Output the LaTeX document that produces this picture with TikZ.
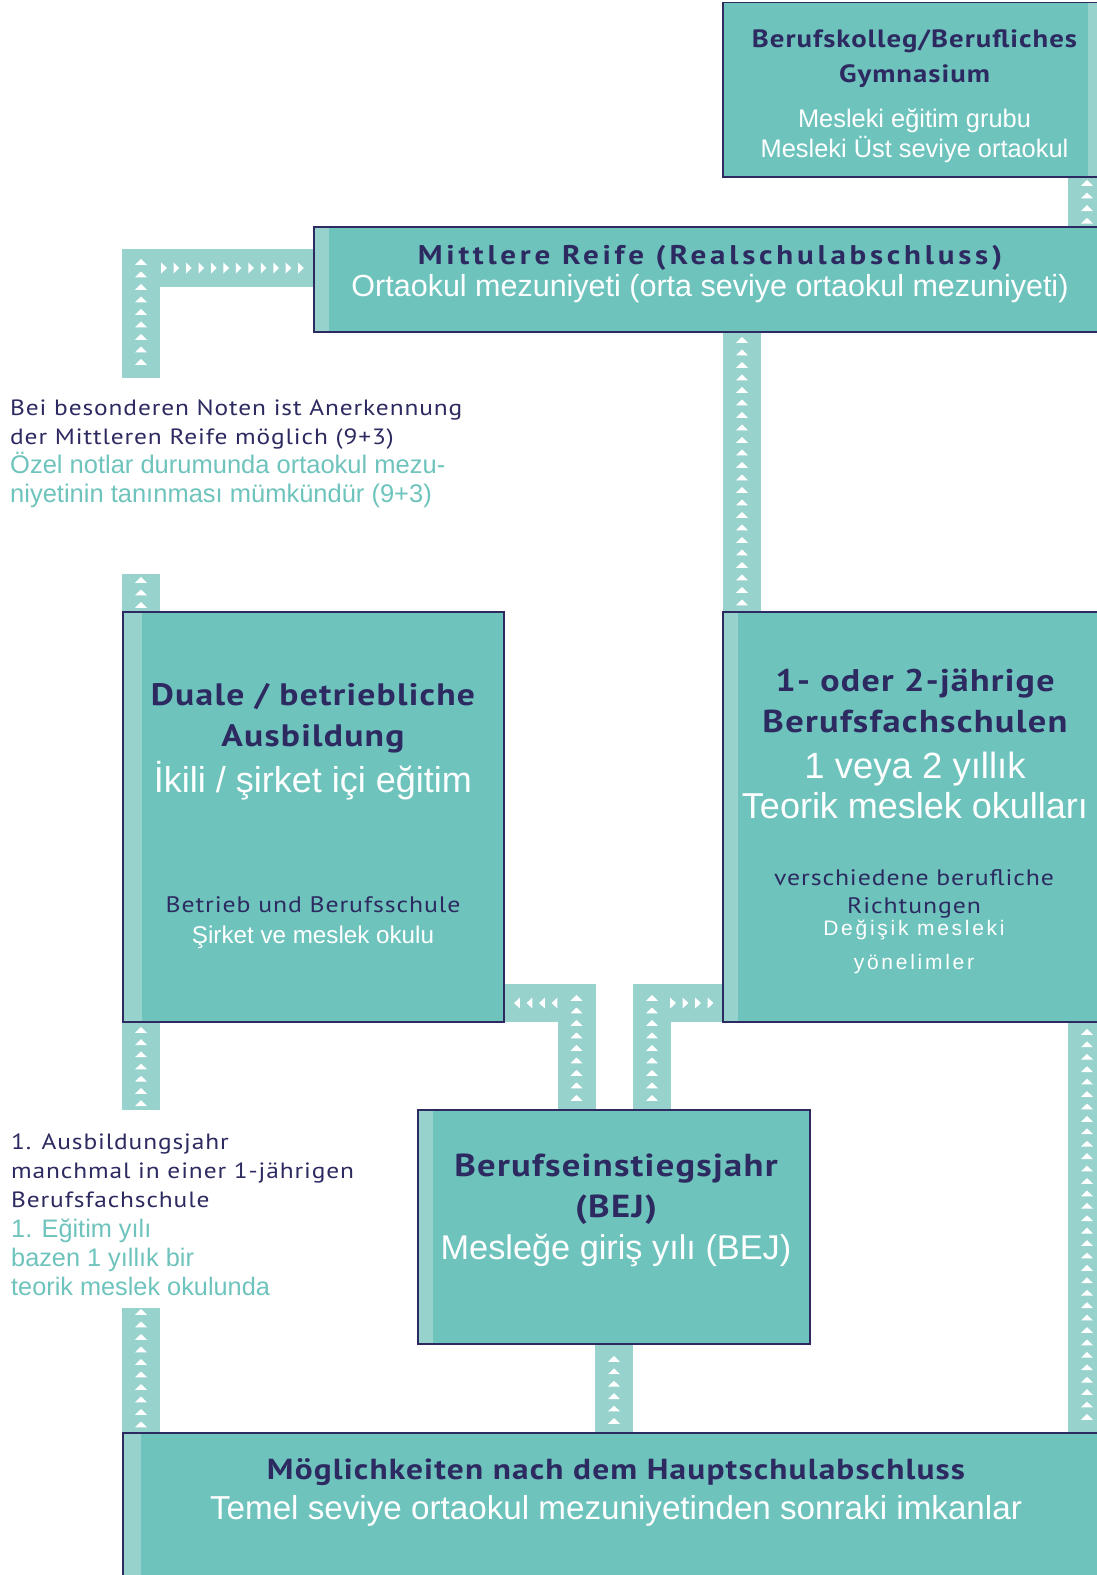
\documentclass[tikz,border=0pt]{standalone}
\usepackage{fontspec}
\setmainfont{Liberation Sans}
\newfontfamily\dinfont[FakeStretch=1.15, LetterSpace=4]{PT Sans}
\newfontfamily\dinwide[FakeStretch=1.15, LetterSpace=14]{PT Sans}
\newfontfamily\trfont{Liberation Sans}
\newfontfamily\trspaced[LetterSpace=13]{Liberation Sans}
\usetikzlibrary{calc}
\definecolor{boxfill}{RGB}{110,196,189}
\definecolor{stripc}{RGB}{152,210,205}
\definecolor{navy}{RGB}{44,42,96}
\definecolor{tealtxt}{RGB}{110,196,189}
\newcommand\fs[1]{\fontsize{#1}{#1}\selectfont}
\begin{document}
\begin{tikzpicture}[x=1pt,y=-1pt,
  boxn/.style={rectangle, fill=boxfill, draw=none, inner sep=0pt, outer sep=0pt, anchor=north west},
  frame/.style={draw=navy, line width=1.6pt},
  conn/.style={draw=stripc, line width=38pt, line join=miter, line cap=butt},
  deB/.style={anchor=base, inner sep=0pt, text=navy, font=\dinfont\bfseries\fs{#1}},
  deW/.style={anchor=base, inner sep=0pt, text=navy, font=\dinwide\bfseries\fs{#1}},
  deR/.style={anchor=base, inner sep=0pt, text=navy, font=\dinfont\fs{#1}},
  trW/.style={anchor=base, inner sep=0pt, text=white, font=\trfont\fs{#1}},
  trS/.style={anchor=base, inner sep=0pt, text=white, font=\trspaced\fs{#1}},
  trT/.style={anchor=base west, inner sep=0pt, text=tealtxt, font=\trfont\fs{#1}},
  deL/.style={anchor=base west, inner sep=0pt, text=navy, font=\dinfont\fs{#1}},
  uptri/.pic={\fill[white] (-6,2.8) -- (6,2.8) -- (0,-3) -- cycle;},
  rtri/.pic={\fill[white] (-2.8,-5.5) -- (-2.8,5.5) -- (2.8,0) -- cycle;},
  ltri/.pic={\fill[white] (2.8,-5.5) -- (2.8,5.5) -- (-2.8,0) -- cycle;}
]
\useasboundingbox (0,0) rectangle (1097,1575);
\clip (0,0) rectangle (1097,1575);
\fill[white] (0,0) rectangle (1097,1575);

% ---------- boxes ----------
\node[boxn, minimum width=400, minimum height=174.5] (bk) at (723,2.5) {};
\node[boxn, minimum width=810, minimum height=105] (mr) at (314,227) {};
\node[boxn, minimum width=381, minimum height=410] (du) at (123,612) {};
\node[boxn, minimum width=400, minimum height=410] (bf) at (723,612) {};
\node[boxn, minimum width=392, minimum height=234] (bej) at (418,1110) {};
\node[boxn, minimum width=1000, minimum height=200] (hs) at (123,1433) {};

% light strips inside boxes
\fill[stripc] ($(bk.north west)+(365,0)$) rectangle (bk.south east);
\fill[stripc] (mr.north west) rectangle ($(mr.south west)+(15,0)$);
\fill[stripc] (du.north west) rectangle ($(du.south west)+(19,0)$);
\fill[stripc] (bf.north west) rectangle ($(bf.south west)+(15,0)$);
\fill[stripc] (bej.north west) rectangle ($(bej.south west)+(15,0)$);
\fill[stripc] (hs.north west) rectangle ($(hs.south west)+(18,0)$);

% ---------- connectors ----------
\coordinate (xL) at (141,0);
\coordinate (xR) at (1087,0);
\coordinate (xD) at (742,0);
\coordinate (xG) at (576.5,0);
\coordinate (xH) at (652,0);
\coordinate (xI) at (614,0);
\coordinate (yGH) at (0,1003);
\coordinate (yB) at (0,268);
\coordinate (fb) at (141,378);
\coordinate (fc) at (141,574);
\coordinate (fe) at (141,1110);
\coordinate (ff) at (141,1308);

\draw[conn] (xR |- bk.south) -- (xR |- mr.north);
\draw[conn] (fb) -- (fb |- yB) -- (mr.west |- yB);
\draw[conn] (fc) -- (xL |- du.north);
\draw[conn] (xD |- bf.north) -- (xD |- mr.south);
\draw[conn] (xL |- du.south) -- (fe);
\draw[conn] (ff) -- (xL |- hs.north);
\draw[conn] (xG |- bej.north) -- (xG |- yGH) -- (du.east |- yGH);
\draw[conn] (xH |- bej.north) -- (xH |- yGH) -- (bf.west |- yGH);
\draw[conn] (xI |- bej.south) -- (xI |- hs.north);
\draw[conn] (xR |- bf.south) -- (xR |- hs.north);

% frames
\foreach \b in {bk,mr,du,bf,bej,hs}
  \draw[frame] (\b.north west) rectangle (\b.south east);

% ---------- arrow marks ----------
\foreach \i in {0,...,3} \pic at (1087,{183+\i*12.6}) {uptri};
\foreach \i in {0,...,8} \pic at (141,{262+\i*12.5}) {uptri};
\foreach \i in {0,...,11} \pic at ({164+\i*12.45},268) {rtri};
\foreach \i in {0,...,2} \pic at (141,{580+\i*12.5}) {uptri};
\foreach \i in {0,...,21} \pic at (742,{340+\i*12.5}) {uptri};
\foreach \i in {0,...,6} \pic at (141,{1030+\i*12.2}) {uptri};
\foreach \i in {0,...,9} \pic at (141,{1312+\i*12.5}) {uptri};
\foreach \i in {0,...,8} \pic at (576.5,{998+\i*12.5}) {uptri};
\foreach \i in {0,...,3} \pic at ({517+\i*12.5},1003) {ltri};
\foreach \i in {0,...,8} \pic at (652,{998+\i*12.5}) {uptri};
\foreach \i in {0,...,3} \pic at ({673+\i*12.5},1003) {rtri};
\foreach \i in {0,...,5} \pic at (614,{1359+\i*12.4}) {uptri};
\foreach \i in {0,...,31} \pic at (1087,{1032+\i*12.42}) {uptri};

% ---------- texts ----------
\node[deB=25] (t1) at (914.5,47) {Berufskolleg/Berufliches};
\node[deB=25] (t2) at (914.5,82) {Gymnasium};
\node[trW=25.4] (t3) at (914.5,127) {Mesleki eğitim grubu};
\node[trW=25.4] (t4) at (914.5,157) {Mesleki Üst seviye ortaokul};

\node[deW=27] (t5) at (710,264) {Mittlere Reife (Realschulabschluss)};
\node[trW=30.5] (t6) at (710,296) {Ortaokul mezuniyeti (orta seviye ortaokul mezuniyeti)};

\node[deL=22.1] (t7) at (10,415) {Bei besonderen Noten ist Anerkennung};
\node[deL=22.1] (t8) at (10,444) {der Mittleren Reife möglich (9+3)};
\node[trT=25.5] (t9) at (10,473) {Özel notlar durumunda ortaokul mezu-};
\node[trT=25.5] (t10) at (10,502) {niyetinin tanınması mümkündür (9+3)};

\node[deB=31] (t11) at (313,705) {Duale / betriebliche};
\node[deB=31] (t12) at (313,746) {Ausbildung};
\node[trW=36] (t13) at (313,792) {İkili / şirket içi eğitim};
\node[deR=22.4] (t14) at (313,912) {Betrieb und Berufsschule};
\node[trW=24.2] (t15) at (313,943) {Şirket ve meslek okulu};

\node[deB=31.3] (t16) at (915,691) {1- oder 2-jährige};
\node[deB=31.7] (t17) at (915,732) {Berufsfachschulen};
\node[trW=36.5] (t18) at (915,778) {1 veya 2 yıllık};
\node[trW=36] (t19) at (915,818) {Teorik meslek okulları};
\node[deR=22.4] (t20) at (914,885) {verschiedene berufliche};
\node[deR=22.4] (t21) at (914,913) {Richtungen};
\node[trS=21] (t22) at (914,935) {Değişik mesleki};
\node[trS=21] (t23) at (914,969) {yönelimler};

\node[deL=22.1] (t24) at (11,1149) {1. Ausbildungsjahr};
\node[deL=22.1] (t25) at (11,1178) {manchmal in einer 1-jährigen};
\node[deL=22.1] (t26) at (11,1207) {Berufsfachschule};
\node[trT=25.3] (t27) at (11,1237) {1. Eğitim yılı};
\node[trT=25.3] (t28) at (11,1266) {bazen 1 yıllık bir};
\node[trT=25.3] (t29) at (11,1295) {teorik meslek okulunda};

\node[deB=31.8] (t30) at (616,1176) {Berufseinstiegsjahr};
\node[deB=31.8] (t31) at (616,1217) {(BEJ)};
\node[trW=34.3] (t32) at (616,1259) {Mesleğe giriş yılı (BEJ)};

\node[deB=29] (t33) at (616,1479) {Möglichkeiten nach dem Hauptschulabschluss};
\node[trW=33.2] (t34) at (616,1519) {Temel seviye ortaokul mezuniyetinden sonraki imkanlar};
\end{tikzpicture}
\end{document}
